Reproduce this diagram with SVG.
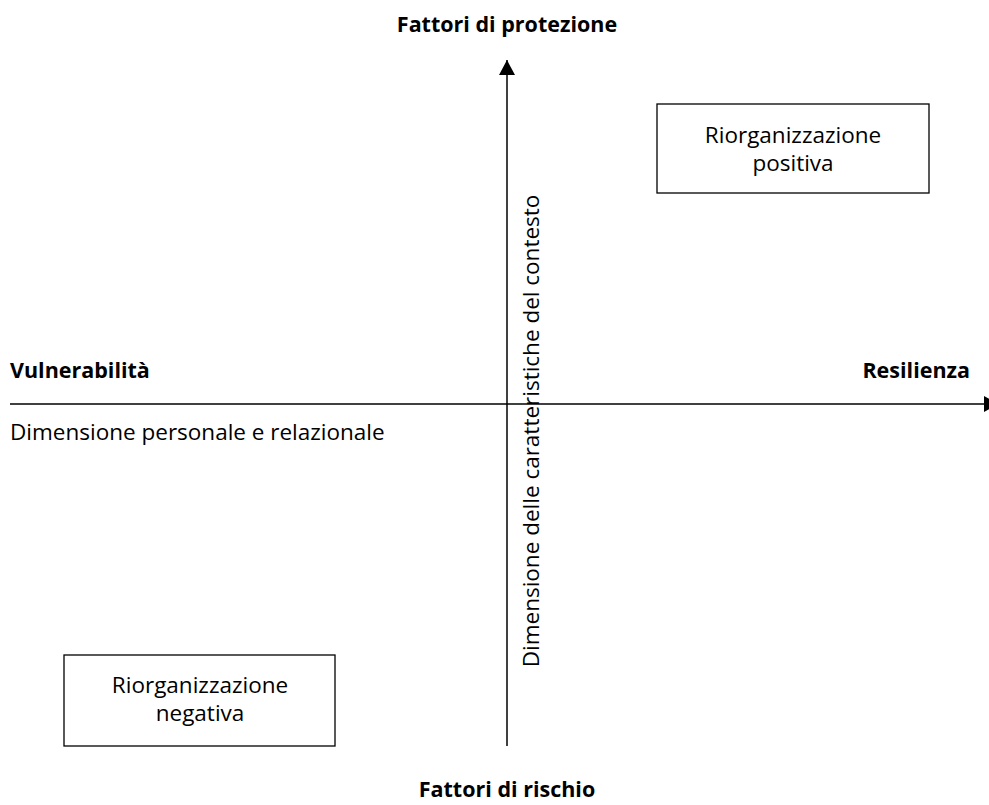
<svg xmlns="http://www.w3.org/2000/svg" width="989" height="805" viewBox="0 0 989 805">
<style>
text{font-family:"Open Sans","Noto Sans","DejaVu Sans",sans-serif;fill:#000;font-size:22.5px}
.b{font-weight:bold;font-size:21.5px}
.c{text-anchor:middle}
.box{fill:#fff;stroke:#000;stroke-width:1.3}
.ax{stroke:#000;stroke-width:1.5;fill:none}
</style>
<defs>
<marker id="ahv" markerWidth="16" markerHeight="16" refX="15" refY="8" orient="auto" markerUnits="userSpaceOnUse"><path d="M0,0 L15,8 L0,16 Z" fill="#000"/></marker>
</defs>
<g id="connectors">
<line class="ax" x1="507" y1="746" x2="507" y2="60" marker-end="url(#ahv)"/>
<line class="ax" x1="10" y1="404" x2="999" y2="404" marker-end="url(#ahv)"/>
</g>
<g id="label-protezione"><text class="b c" x="507" y="32">Fattori di protezione</text></g>
<g id="label-rischio"><text class="b c" x="507" y="797">Fattori di rischio</text></g>
<g id="label-vulnerabilita"><text class="b" x="10" y="378">Vulnerabilità</text></g>
<g id="label-resilienza"><text class="b" x="970" y="378" text-anchor="end">Resilienza</text></g>
<g id="label-personale"><text x="10" y="440">Dimensione personale e relazionale</text></g>
<g id="label-contesto"><text class="c" transform="translate(539,431) rotate(-90)">Dimensione delle caratteristiche del contesto</text></g>
<g id="node-positiva">
<rect class="box" x="657" y="104" width="272" height="89"/>
<text class="c" x="793" y="143">Riorganizzazione</text>
<text class="c" x="793" y="171">positiva</text>
</g>
<g id="node-negativa">
<rect class="box" x="64" y="655" width="271" height="91"/>
<text class="c" x="200" y="693">Riorganizzazione</text>
<text class="c" x="200" y="721">negativa</text>
</g>
</svg>
